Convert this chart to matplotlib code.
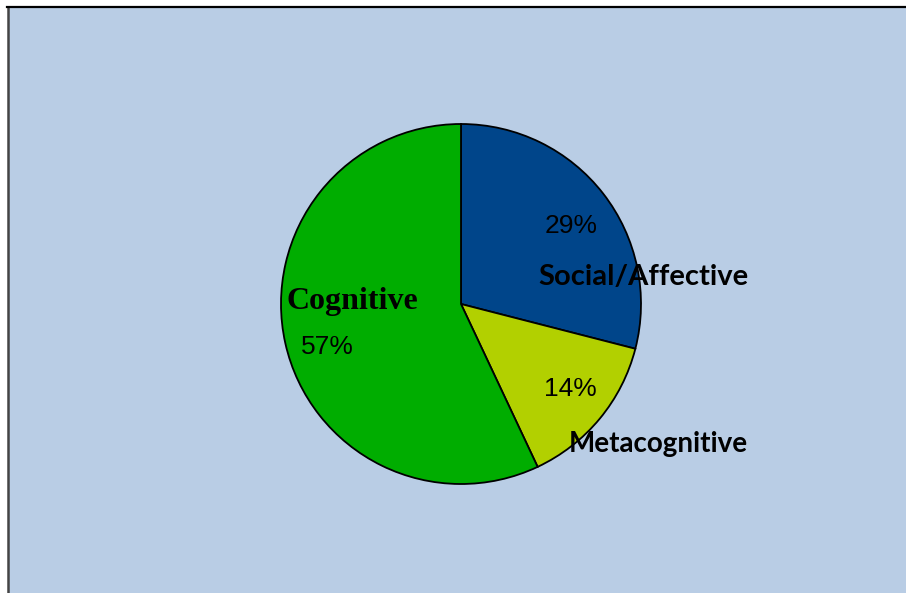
import matplotlib.pyplot as plt
from matplotlib.lines import Line2D

# strategy shares (percent)
categories = ["Social/Affective", "Metacognitive", "Cognitive"]
shares = [29, 14, 57]
colors = ["#00458A", "#B2D000", "#00AD00"]

W, H = 906, 593
fig = plt.figure(figsize=(W / 100, H / 100), dpi=100, facecolor="white")

# panel background with the framing lines on the left and top
ax = fig.add_axes([0, 0, 1, 1])
ax.set_xlim(0, W)
ax.set_ylim(0, H)
ax.axis("off")
ax.add_patch(plt.Rectangle((8, 0), W - 8, H - 7, facecolor="#B9CDE5", edgecolor="none", zorder=0))
ax.add_line(Line2D([8, 8], [0, H - 7], color="#444444", lw=1.8, zorder=5))
ax.add_line(Line2D([7, W], [H - 7, H - 7], color="black", lw=1.6, zorder=5))

cx, cy, r = 461, H - 304, 180
wedges, _ = ax.pie(shares, colors=colors, startangle=90, counterclock=False,
                   center=(cx, cy), radius=r, frame=True,
                   wedgeprops=dict(edgecolor="black", linewidth=1.3))
ax.set_xlim(0, W)
ax.set_ylim(0, H)
ax.set_aspect("equal")
ax.axis("off")

pct_font = dict(family="Liberation Sans", fontsize=19, color="black")
name_font = dict(family="Lato", color="black", weight="bold")

# Social/Affective
ax.text(571, H - 226, f"{shares[0]}%", ha="center", va="center", **pct_font)
ax.text(643, H - 277, categories[0], ha="center", va="center", fontsize=21, **name_font)
# Metacognitive
ax.text(570, H - 389, f"{shares[1]}%", ha="center", va="center", **pct_font)
ax.text(658, H - 444, categories[1], ha="center", va="center", fontsize=20, **name_font)
# Cognitive
ax.text(352, H - 302, categories[2], ha="center", va="center",
        family="Liberation Serif", fontsize=23, weight="bold", color="black")
ax.text(327, H - 347, f"{shares[2]}%", ha="center", va="center", **pct_font)

fig.savefig("out.png", dpi=100, facecolor=fig.get_facecolor())
